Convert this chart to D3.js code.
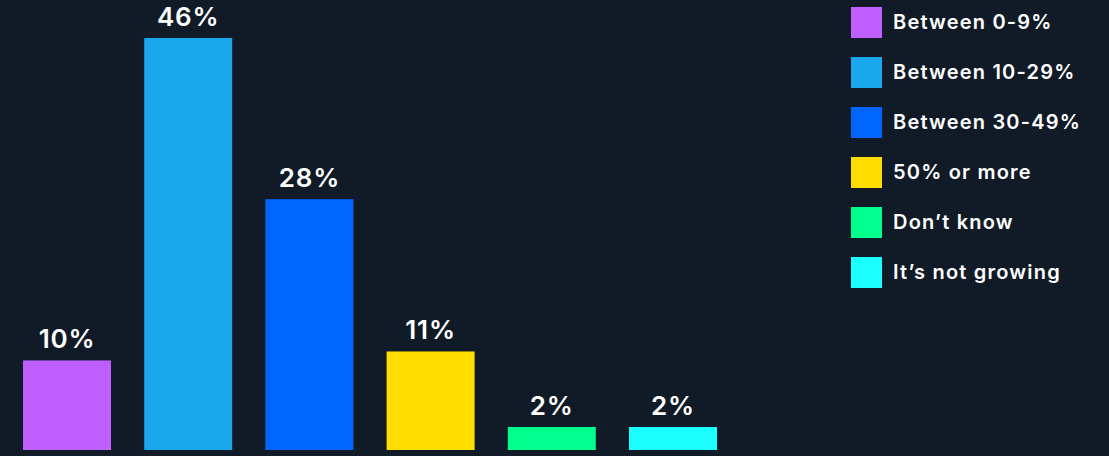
<!DOCTYPE html>
<html>
<head>
<meta charset="utf-8">
<script src="https://cdn.jsdelivr.net/npm/d3@7"></script>
<style>
  html, body { margin: 0; padding: 0; background: #111b27; }
  svg text { font-family: "Inter", "Open Sans", sans-serif; fill: #ffffff; }
</style>
</head>
<body>
<div id="chart"></div>
<script>
// chart data
var categories = ["Between 0-9%", "Between 10-29%", "Between 30-49%", "50% or more", "Don\u2019t know", "It\u2019s not growing"];
var values = [10, 46, 28, 11, 2, 2];
var colors = ["#bf5fff", "#1aa7ee", "#0066ff", "#ffdd00", "#00ff8c", "#1affff"];

var width = 1109, height = 456;
var minBar = 23; // small bars are drawn with a minimum height

var svg = d3.select("#chart")
    .append("svg")
        .attr("width", width)
        .attr("height", height);

// Set the ranges
var x = d3.scaleBand()
    .domain(categories)
    .range([23, 717])
    .paddingInner(0.274)
    .paddingOuter(0);

var y = d3.scaleLinear()
    .domain([0, d3.max(values)])
    .range([450, 38]);

var data = categories.map(function(c, i) {
    return {cat: c, value: values[i], color: colors[i]};
});

function barTop(d) {
    return Math.min(y(d.value), y(0) - minBar);
}

// bars
svg.selectAll(".bar")
    .data(data)
  .enter().append("rect")
    .attr("class", "bar")
    .attr("x", function(d) { return x(d.cat); })
    .attr("width", x.bandwidth())
    .attr("y", barTop)
    .attr("height", function(d) { return y(0) - barTop(d); })
    .attr("fill", function(d) { return d.color; });

// value labels
svg.selectAll(".val")
    .data(data)
  .enter().append("text")
    .attr("class", "val")
    .attr("x", function(d) { return x(d.cat) + x.bandwidth() / 2; })
    .attr("y", function(d) { return barTop(d) - 12; })
    .attr("text-anchor", "middle")
    .style("font-size", "26px")
    .style("font-weight", 600)
    .style("letter-spacing", "0.8px")
    .text(function(d) { return d.value + "%"; });

// legend
var legend = svg.selectAll(".legend")
    .data(data)
  .enter().append("g")
    .attr("class", "legend")
    .attr("transform", function(d, i) { return "translate(851," + (7 + i * 50) + ")"; });

legend.append("rect")
    .attr("width", 31)
    .attr("height", 31)
    .attr("fill", function(d) { return d.color; });

legend.append("text")
    .attr("x", 42)
    .attr("y", 22)
    .style("font-size", "20px")
    .style("font-weight", 600)
    .style("letter-spacing", "1.2px")
    .text(function(d) { return d.cat; });
</script>
</body>
</html>
